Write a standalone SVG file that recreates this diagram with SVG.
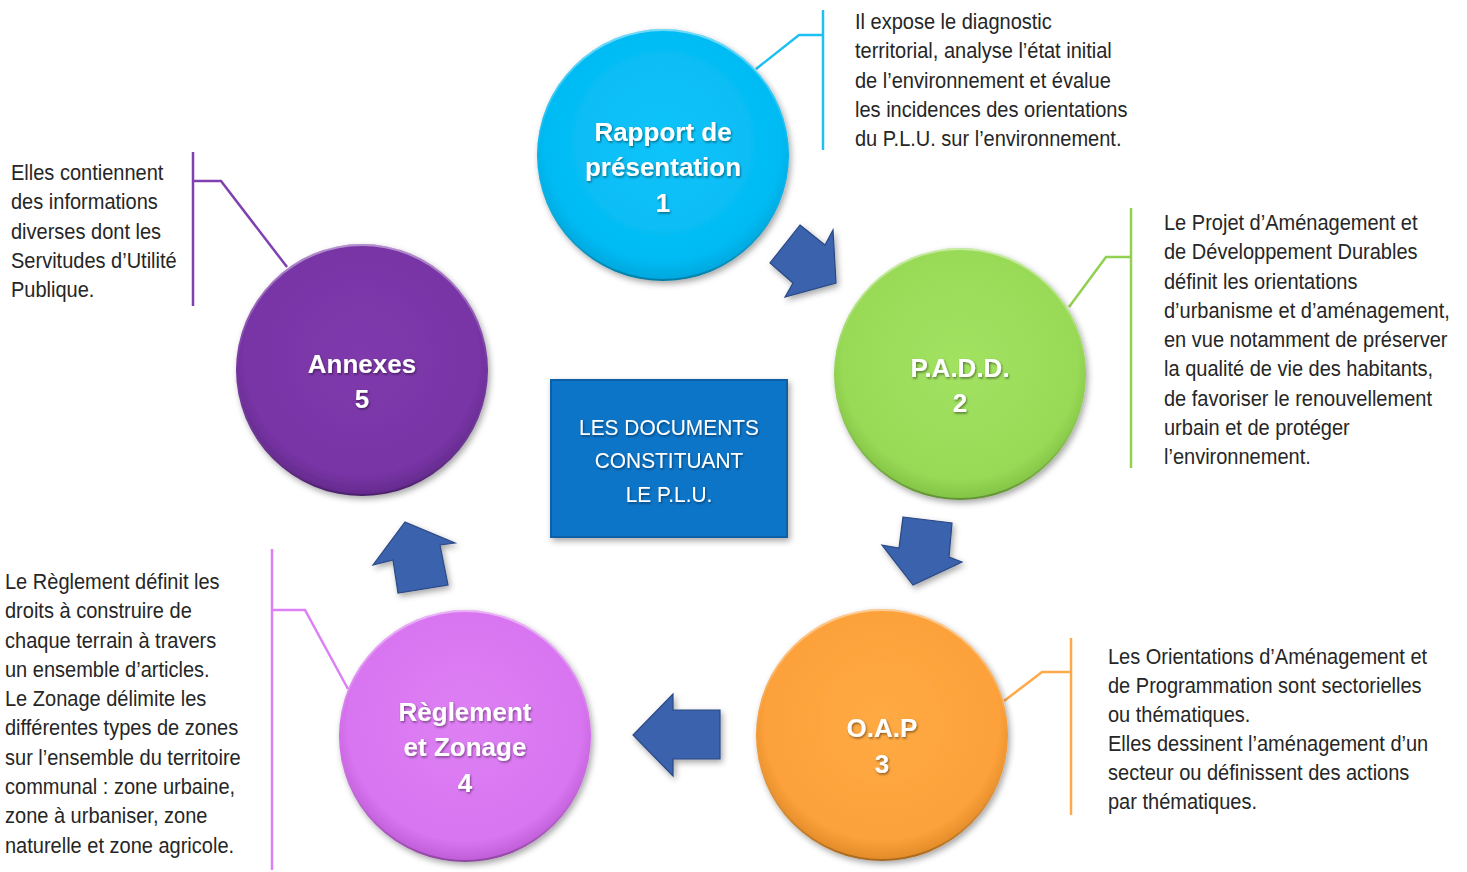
<svg xmlns="http://www.w3.org/2000/svg" width="1467" height="872" viewBox="0 0 1467 872">
<defs>
<style>
.desc{font-family:"Liberation Sans",Arial,sans-serif;font-size:22px;fill:#262626}
.ctext{font-family:"Liberation Sans",Arial,sans-serif;font-size:26px;font-weight:bold;fill:#ffffff;text-anchor:middle}
.btext{font-family:"Liberation Sans",Arial,sans-serif;font-size:22px;fill:#ffffff;text-anchor:middle}
.call{fill:none;stroke-width:2.5;stroke-linejoin:miter}
.arrow{fill:#3A62AC;stroke:#2A4884;stroke-width:1.2}
</style>
<filter id="sh" x="-20%" y="-20%" width="140%" height="140%">
<feDropShadow dx="2" dy="3" stdDeviation="3" flood-color="#000" flood-opacity="0.35"/>
</filter>
<filter id="tsh" x="-10%" y="-10%" width="120%" height="130%">
<feDropShadow dx="1" dy="1.5" stdDeviation="1" flood-color="#000" flood-opacity="0.45"/>
</filter>
<radialGradient id="g1" cx="50%" cy="45%" r="55%"><stop offset="0" stop-color="#12C4FA"/><stop offset="0.85" stop-color="#03BBF3"/><stop offset="1" stop-color="#00A6DC"/></radialGradient>
<radialGradient id="g2" cx="50%" cy="45%" r="55%"><stop offset="0" stop-color="#A2E262"/><stop offset="0.85" stop-color="#98DA56"/><stop offset="1" stop-color="#82C244"/></radialGradient>
<radialGradient id="g3" cx="50%" cy="45%" r="55%"><stop offset="0" stop-color="#FFAA44"/><stop offset="0.85" stop-color="#FCA13A"/><stop offset="1" stop-color="#E08A28"/></radialGradient>
<radialGradient id="g4" cx="50%" cy="45%" r="55%"><stop offset="0" stop-color="#DE80F4"/><stop offset="0.85" stop-color="#D874F0"/><stop offset="1" stop-color="#BE5CD6"/></radialGradient>
<radialGradient id="g5" cx="50%" cy="45%" r="55%"><stop offset="0" stop-color="#7F3AAC"/><stop offset="0.85" stop-color="#7834A5"/><stop offset="1" stop-color="#632A8C"/></radialGradient>
<linearGradient id="rim" x1="0" y1="0" x2="0" y2="1"><stop offset="0" stop-color="#ffffff" stop-opacity="0.45"/><stop offset="0.5" stop-color="#ffffff" stop-opacity="0"/><stop offset="1" stop-color="#000000" stop-opacity="0.25"/></linearGradient>
</defs>
<rect width="1467" height="872" fill="#ffffff"/>

<g id="connectors">
<polyline class="call" stroke="#1EC0F2" points="756,69 799,35 823,35"/>
<line class="call" stroke="#1EC0F2" x1="823" y1="10" x2="823" y2="150"/>
<polyline class="call" stroke="#92D050" points="1069,307 1106,257 1131,257"/>
<line class="call" stroke="#92D050" x1="1131" y1="208" x2="1131" y2="468"/>
<polyline class="call" stroke="#FFAA4A" points="1004,701 1042,672 1071,672"/>
<line class="call" stroke="#FFAA4A" x1="1071" y1="638" x2="1071" y2="815"/>
<polyline class="call" stroke="#DD80F5" points="348,689 305,610 272,610"/>
<line class="call" stroke="#DD80F5" x1="272" y1="549" x2="272" y2="870"/>
<polyline class="call" stroke="#8040B0" points="287,267 221,181 193,181"/>
<line class="call" stroke="#8040B0" x1="193" y1="152" x2="193" y2="306"/>
<polygon class="arrow" filter="url(#sh)" points="800,225 825,245 833,230 836,283 785,297 793,283 770,263"/>
<polygon class="arrow" filter="url(#sh)" points="903,517 952,523 949,557 962,562 913,585 882,545 899,548"/>
<polygon class="arrow" filter="url(#sh)" points="720,710 673,710 673,694 633,735 673,776 673,759 720,759"/>
<polygon class="arrow" filter="url(#sh)" points="405,522 455,543 440,545 448,585 398,593 393,560 373,565"/>
</g>

<g id="node-rapport">
<circle cx="663" cy="155" r="126" fill="url(#g1)" filter="url(#sh)"/>
<circle cx="663" cy="155" r="125" fill="none" stroke="url(#rim)" stroke-width="2"/>
<g filter="url(#tsh)"><text class="ctext" x="663" y="141">Rapport de</text><text class="ctext" x="663" y="176">présentation</text><text class="ctext" x="663" y="212">1</text></g>
</g>
<g id="node-padd">
<circle cx="960" cy="374" r="126" fill="url(#g2)" filter="url(#sh)"/>
<circle cx="960" cy="374" r="125" fill="none" stroke="url(#rim)" stroke-width="2"/>
<g filter="url(#tsh)"><text class="ctext" x="960" y="377">P.A.D.D.</text><text class="ctext" x="960" y="412">2</text></g>
</g>
<g id="node-oap">
<circle cx="882" cy="735" r="126" fill="url(#g3)" filter="url(#sh)"/>
<circle cx="882" cy="735" r="125" fill="none" stroke="url(#rim)" stroke-width="2"/>
<g filter="url(#tsh)"><text class="ctext" x="882" y="737">O.A.P</text><text class="ctext" x="882" y="773">3</text></g>
</g>
<g id="node-reglement">
<circle cx="465" cy="736" r="126" fill="url(#g4)" filter="url(#sh)"/>
<circle cx="465" cy="736" r="125" fill="none" stroke="url(#rim)" stroke-width="2"/>
<g filter="url(#tsh)"><text class="ctext" x="465" y="721">Règlement</text><text class="ctext" x="465" y="756">et Zonage</text><text class="ctext" x="465" y="792">4</text></g>
</g>
<g id="node-annexes">
<circle cx="362" cy="370" r="126" fill="url(#g5)" filter="url(#sh)"/>
<circle cx="362" cy="370" r="125" fill="none" stroke="url(#rim)" stroke-width="2"/>
<g filter="url(#tsh)"><text class="ctext" x="362" y="373">Annexes</text><text class="ctext" x="362" y="408">5</text></g>
</g>
<g id="node-center">
<rect x="551" y="380" width="236" height="157" fill="#0B74C8" stroke="#0A5EA6" stroke-width="2" filter="url(#sh)"/>
<g filter="url(#tsh)" transform="translate(669 0) scale(0.95 1)"><text class="btext" x="0" y="435">LES DOCUMENTS</text><text class="btext" x="0" y="468">CONSTITUANT</text><text class="btext" x="0" y="502">LE P.L.U.</text></g>
</g>

<g id="desc-rapport" transform="translate(855 0) scale(0.91 1)">
<text class="desc" x="0" y="29">Il expose le diagnostic</text>
<text class="desc" x="0" y="58.3">territorial, analyse l’état initial</text>
<text class="desc" x="0" y="87.6">de l’environnement et évalue</text>
<text class="desc" x="0" y="116.9">les incidences des orientations</text>
<text class="desc" x="0" y="146.2">du P.L.U. sur l’environnement.</text>
</g>
<g id="desc-padd" transform="translate(1164 0) scale(0.91 1)">
<text class="desc" x="0" y="230">Le Projet d’Aménagement et</text>
<text class="desc" x="0" y="259.3">de Développement Durables</text>
<text class="desc" x="0" y="288.6">définit les orientations</text>
<text class="desc" x="0" y="317.9">d’urbanisme et d’aménagement,</text>
<text class="desc" x="0" y="347.2">en vue notamment de préserver</text>
<text class="desc" x="0" y="376.5">la qualité de vie des habitants,</text>
<text class="desc" x="0" y="405.8">de favoriser le renouvellement</text>
<text class="desc" x="0" y="435.1">urbain et de protéger</text>
<text class="desc" x="0" y="464.4">l’environnement.</text>
</g>
<g id="desc-oap" transform="translate(1108 0) scale(0.91 1)">
<text class="desc" x="0" y="664">Les Orientations d’Aménagement et</text>
<text class="desc" x="0" y="693">de Programmation sont sectorielles</text>
<text class="desc" x="0" y="722">ou thématiques.</text>
<text class="desc" x="0" y="751">Elles dessinent l’aménagement d’un</text>
<text class="desc" x="0" y="780">secteur ou définissent des actions</text>
<text class="desc" x="0" y="809">par thématiques.</text>
</g>
<g id="desc-reglement" transform="translate(5 0) scale(0.91 1)">
<text class="desc" x="0" y="589">Le Règlement définit les</text>
<text class="desc" x="0" y="618.3">droits à construire de</text>
<text class="desc" x="0" y="647.6">chaque terrain à travers</text>
<text class="desc" x="0" y="676.9">un ensemble d’articles.</text>
<text class="desc" x="0" y="706.2">Le Zonage délimite les</text>
<text class="desc" x="0" y="735.5">différentes types de zones</text>
<text class="desc" x="0" y="764.8">sur l’ensemble du territoire</text>
<text class="desc" x="0" y="794.1">communal : zone urbaine,</text>
<text class="desc" x="0" y="823.4">zone à urbaniser, zone</text>
<text class="desc" x="0" y="852.7">naturelle et zone agricole.</text>
</g>
<g id="desc-annexes" transform="translate(11 0) scale(0.91 1)">
<text class="desc" x="0" y="180">Elles contiennent</text>
<text class="desc" x="0" y="209.3">des informations</text>
<text class="desc" x="0" y="238.6">diverses dont les</text>
<text class="desc" x="0" y="267.9">Servitudes d’Utilité</text>
<text class="desc" x="0" y="297.2">Publique.</text>
</g>
</svg>
